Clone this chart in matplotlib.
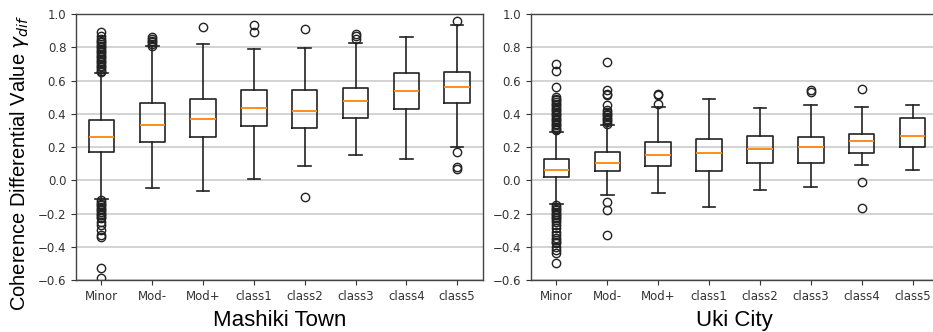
import matplotlib
matplotlib.use("Agg")
import matplotlib.pyplot as plt

categories = ["Minor", "Mod-", "Mod+", "class1", "class2", "class3", "class4", "class5"]

# Mashiki Town
m_med = [0.262, 0.332, 0.366, 0.437, 0.417, 0.475, 0.535, 0.563]
m_q1 = [0.172, 0.232, 0.260, 0.326, 0.312, 0.372, 0.431, 0.466]
m_q3 = [0.362, 0.463, 0.487, 0.541, 0.541, 0.553, 0.643, 0.651]
m_lo = [-0.115, -0.049, -0.065, 0.009, 0.086, 0.150, 0.128, 0.200]
m_hi = [0.647, 0.808, 0.821, 0.789, 0.797, 0.828, 0.864, 0.934]
m_fl = [
    [0.65, 0.66, 0.67, 0.68, 0.69, 0.70, 0.71, 0.72, 0.73, 0.74, 0.75, 0.76, 0.77,
     0.78, 0.79, 0.80, 0.81, 0.82, 0.83, 0.84, 0.85, 0.87, 0.89,
     -0.12, -0.13, -0.14, -0.15, -0.16, -0.17, -0.18, -0.19, -0.20, -0.21, -0.22,
     -0.23, -0.25, -0.27, -0.30, -0.33, -0.34, -0.53, -0.59],
    [0.81, 0.82, 0.83, 0.84, 0.85, 0.86],
    [0.924],
    [0.934, 0.89],
    [0.908, -0.099],
    [0.85, 0.87, 0.88],
    [],
    [0.96, 0.172, 0.08, 0.07],
]

# Uki City
u_med = [0.062, 0.106, 0.150, 0.164, 0.188, 0.202, 0.238, 0.268]
u_q1 = [0.018, 0.054, 0.086, 0.054, 0.106, 0.106, 0.164, 0.202]
u_q3 = [0.126, 0.172, 0.232, 0.246, 0.268, 0.260, 0.280, 0.376]
u_lo = [-0.143, -0.091, -0.075, -0.159, -0.059, -0.041, 0.092, 0.062]
u_hi = [0.292, 0.332, 0.443, 0.489, 0.437, 0.451, 0.443, 0.453]
u_fl = [
    [0.30, 0.31, 0.32, 0.33, 0.34, 0.35, 0.36, 0.37, 0.38, 0.39, 0.40, 0.41, 0.42,
     0.43, 0.44, 0.45, 0.46, 0.47, 0.48, 0.49, 0.50, 0.56, 0.66, 0.70,
     -0.15, -0.16, -0.17, -0.18, -0.19, -0.20, -0.21, -0.22, -0.23, -0.24, -0.25,
     -0.27, -0.29, -0.31, -0.33, -0.35, -0.36, -0.37, -0.38, -0.40, -0.42, -0.44, -0.50],
    [0.34, 0.35, 0.36, 0.37, 0.38, 0.39, 0.40, 0.41, 0.42, 0.45, 0.51, 0.52, 0.54, 0.71,
     -0.13, -0.18, -0.33],
    [0.46, 0.51, 0.52],
    [],
    [],
    [0.53, 0.54],
    [0.547, -0.013, -0.169],
    [],
]

yticks = [-0.6, -0.4, -0.2, 0.0, 0.2, 0.4, 0.6, 0.8, 1.0]


def make_stats(med, q1, q3, lo, hi, fl):
    return [dict(med=med[i], q1=q1[i], q3=q3[i], whislo=lo[i], whishi=hi[i],
                 fliers=fl[i], label=categories[i]) for i in range(len(med))]


fig = plt.figure(figsize=(9.33, 3.32), dpi=100)
ax1 = fig.add_axes([0.0815, 0.1566, 0.4357, 0.8012])
ax2 = fig.add_axes([0.5691, 0.1566, 0.4363, 0.8012])

for ax, stats, xl in [(ax1, make_stats(m_med, m_q1, m_q3, m_lo, m_hi, m_fl), "Mashiki Town"),
                      (ax2, make_stats(u_med, u_q1, u_q3, u_lo, u_hi, u_fl), "Uki City")]:
    ax.bxp(stats, showfliers=True,
           boxprops=dict(linewidth=1.2, color="#222222"),
           whiskerprops=dict(linewidth=1.2, color="#222222"),
           capprops=dict(linewidth=1.2, color="#222222"),
           medianprops=dict(linewidth=1.4, color="#ff8c1a"),
           flierprops=dict(marker="o", markerfacecolor="none",
                           markeredgecolor="#222222", markersize=6, markeredgewidth=1.0))
    ax.set_ylim(-0.6, 1.0)
    ax.set_yticks(yticks)
    ax.set_yticklabels([f"{v:.1f}".replace("-", "\u2212") for v in yticks])
    ax.yaxis.grid(True, color="#cccccc", linewidth=1.2)
    ax.set_axisbelow(True)
    ax.tick_params(labelsize=8.5, colors="#333333")
    for s in ax.spines.values():
        s.set_color("#444444")
        s.set_linewidth(1.0)
    ax.set_xlabel(xl, fontsize=16, family="Liberation Sans", labelpad=5)

ax1.set_ylabel(r"Coherence Differential Value $\gamma_{dif}$", fontsize=14.5,
               family="Liberation Sans")
ax1.yaxis.set_label_coords(-0.112, 0.44)

fig.savefig("out.png", dpi=100)
